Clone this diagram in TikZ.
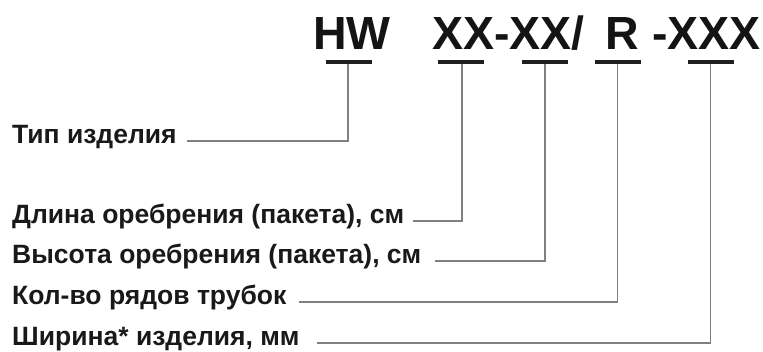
\documentclass[tikz,border=0pt]{standalone}
\usepackage{fontspec}
\setmainfont{Liberation Sans}
\begin{document}
\begin{tikzpicture}[x=1pt,y=1pt,
  lbl/.style={anchor=mid west,inner sep=0pt,font=\fontsize{26.5}{30}\selectfont\bfseries,text=black!90},
  ttl/.style={anchor=base west,inner sep=0pt,font=\fontsize{46.5}{52}\selectfont\bfseries,text=black!92},
  bar/.style={fill=black!88,draw=none,minimum width=46pt,minimum height=3.5pt,inner sep=0pt},
  lead/.style={draw=black!50,line width=1.8pt}]
\useasboundingbox (0,0) rectangle (763,351);
% title pieces
\node[ttl] (hw) at (313,301) {HW};
\node[ttl] (xx) at (432,301) {XX-XX/};
\node[ttl] (r) at (605,301) {R};
\node[ttl] (xxx) at (652,301) {-XXX};
% bars
\node[bar] (b1) at (348.5,289) {};
\node[bar] (b2) at (460.5,289) {};
\node[bar] (b3) at (545,289) {};
\node[bar] (b4) at (617.5,289) {};
\node[bar] (b5) at (710.5,289) {};
% labels
\node[lbl] (t1) at (12,210) {Тип изделия};
\node[lbl] (t2) at (12,130) {Длина оребрения (пакета), см};
\node[lbl] (t3) at (12,90) {Высота оребрения (пакета), см};
\node[lbl] (t4) at (12,49) {Кол-во рядов трубок};
\node[lbl] (t5) at (12,8) {Ширина* изделия, мм};
% leaders
\draw[lead] ([xshift=10pt]t1.mid east) -| ([xshift=-0.5pt]b1.south);
\draw[lead] ([xshift=8pt]t2.mid east) -| ([xshift=1.5pt]b2.south);
\draw[lead] ([xshift=13pt]t3.mid east) -| (b3.south);
\draw[lead] ([xshift=12pt]t4.mid east) -| (b4.south);
\draw[lead] ([xshift=17pt]t5.mid east) -| (b5.south);
\end{tikzpicture}
\end{document}
